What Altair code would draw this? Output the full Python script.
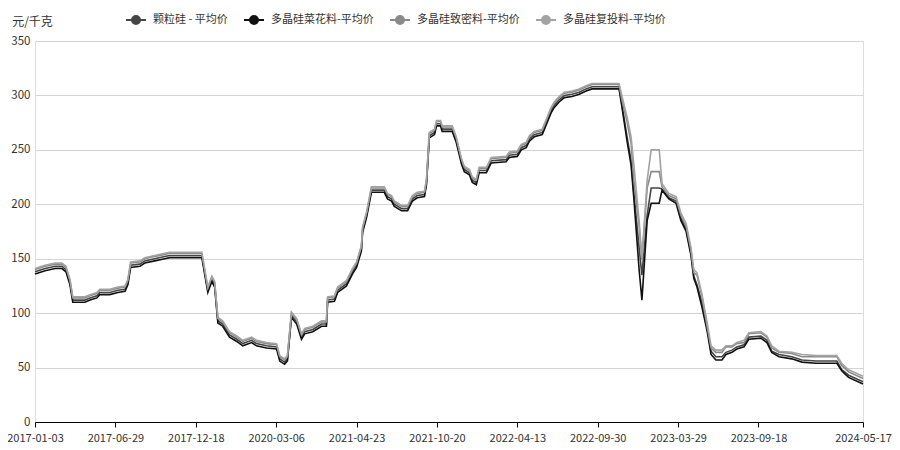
import altair as alt
import pandas as pd

FONT = "Noto Sans CJK SC"

series_names = ["颗粒硅 - 平均价", "多晶硅菜花料-平均价", "多晶硅致密料-平均价", "多晶硅复投料-平均价"]
series_colors = ["#454545", "#111111", "#8a8a8a", "#a3a3a3"]

tick_pos = [0, 20, 40, 60, 80, 100, 120, 140, 160, 180, 206]
tick_labels = ["2017-01-03", "2017-06-29", "2017-12-18", "2020-03-06", "2021-04-23",
               "2021-10-20", "2022-04-13", "2022-09-30", "2023-03-29", "2023-09-18", "2024-05-17"]

t = [0, 2.5, 5.0, 6.7, 7.7, 8.7, 9.4, 12.4, 13.7, 15.4,
     16.1, 18.6, 20.6, 22.4, 23.1, 23.8, 26.1, 27.3, 29.8, 32.3,
     33.5, 41.5, 42.2, 43.0, 44.0, 44.7, 45.5, 46.7, 48.4, 50.2,
     51.7, 53.9, 55.1, 57.6, 60.1, 60.9, 62.1, 62.8, 63.8, 65.1,
     66.3, 67.1, 69.1, 71.3, 72.5, 72.8, 74.5, 75.3, 77.5, 79.0,
     80.0, 81.2, 81.5, 82.5, 83.7, 86.9, 87.7, 88.7, 89.4, 91.2,
     92.7, 93.9, 95.1, 96.9, 97.4, 98.1, 99.4, 99.9, 100.9, 101.3,
     103.8, 104.8, 106.1, 106.8, 108.1, 108.8, 109.8, 110.5, 112.3, 113.5,
     117.2, 118.0, 120.0, 121.0, 122.2, 123.0, 124.2, 126.2, 127.2, 128.4,
     129.2, 130.4, 131.7, 133.6, 135.4, 137.1, 138.6, 145.3,
     146.0, 147.3, 148.3, 149.0, 150.3, 151.0, 152.3, 153.3, 155.3, 156.0,
     157.7, 159.5, 160.7, 162.0, 163.2, 163.9, 164.7, 165.9, 167.2, 168.2,
     169.4, 170.9, 171.9, 173.4, 174.6, 176.4, 177.6, 180.6, 182.1, 183.3,
     185.1, 188.3, 190.8, 194.3, 199.5, 200.7, 202.4, 206]

# 颗粒硅
granular = [138, 141, 143, 143, 140, 128, 112, 112, 114, 116,
            119, 119, 121, 122, 128, 144, 145, 148, 150, 152,
            153, 153, 138, 121, 131, 126, 93, 90, 80, 76,
            72, 75, 72, 70, 69, 58, 55, 58, 98, 92,
            78, 83, 85, 90, 90, 112, 113, 121, 127, 138,
            144, 159, 176, 190, 213, 213, 207, 205, 200, 196,
            196, 205, 208, 209, 220, 263, 266, 274, 274, 269,
            269, 259, 239, 232, 229, 222, 220, 231, 231, 240,
            241, 245, 246, 252, 254, 260, 264, 266, 275, 286,
            291, 296, 300, 301, 303, 306, 308, 308,
            292, 262, 240, 210, 160, 135, 190, 215, 215, 214,
            206, 203, 187, 177, 155, 134, 126, 110, 86, 65,
            60, 60, 64, 66, 69, 71, 78, 79, 75, 65,
            62, 60, 57, 56, 56, 48, 43, 37]

# 多晶硅菜花料
cauliflower = [136, 139, 141, 141, 138, 126, 110, 110, 112, 114,
               117, 117, 119, 120, 126, 142, 143, 146, 148, 150,
               151, 151, 136, 119, 129, 124, 91, 88, 78, 74,
               70, 73, 70, 68, 67, 56, 53, 56, 96, 90,
               76, 81, 83, 88, 88, 110, 111, 119, 125, 136,
               142, 157, 174, 188, 211, 211, 205, 203, 198, 194,
               194, 203, 206, 207, 218, 261, 264, 272, 272, 267,
               267, 257, 237, 230, 227, 220, 218, 229, 229, 238,
               239, 243, 244, 250, 252, 258, 262, 264, 273, 284,
               289, 294, 298, 299, 301, 304, 306, 306,
               290, 258, 236, 205, 140, 112, 185, 201, 201, 213,
               205, 201, 185, 175, 153, 132, 124, 106, 84, 62,
               57, 57, 62, 64, 67, 69, 76, 77, 73, 64,
               60, 58, 55, 54, 54, 47, 41, 35]

# 多晶硅致密料
dense = [140, 143, 145, 145, 142, 130, 114, 114, 116, 118,
         121, 121, 123, 124, 130, 146, 147, 150, 152, 154,
         155, 155, 140, 123, 133, 128, 95, 92, 82, 78,
         74, 77, 74, 72, 71, 60, 57, 60, 100, 94,
         80, 85, 87, 92, 92, 114, 115, 123, 129, 140,
         146, 161, 178, 192, 215, 215, 209, 207, 202, 198,
         198, 207, 210, 211, 222, 265, 268, 276, 276, 271,
         271, 261, 241, 234, 231, 224, 222, 233, 233, 242,
         243, 247, 248, 254, 256, 262, 266, 268, 277, 288,
         293, 298, 302, 303, 305, 308, 310, 310,
         296, 276, 256, 222, 180, 149, 215, 230, 230, 216,
         208, 205, 190, 180, 158, 137, 135, 116, 88, 68,
         64, 64, 69, 69, 72, 73, 81, 82, 78, 68,
         64, 63, 60, 60, 60, 52, 46, 40]

# 多晶硅复投料
recharge = [141, 144, 146, 146, 143, 131, 115, 115, 117, 119,
            122, 122, 124, 125, 131, 147, 148, 151, 153, 155,
            156, 156, 141, 124, 134, 129, 96, 93, 83, 79,
            75, 78, 75, 73, 72, 61, 58, 61, 101, 95,
            81, 86, 88, 93, 93, 115, 116, 124, 130, 141,
            147, 162, 179, 193, 216, 216, 210, 208, 203, 199,
            199, 208, 211, 212, 223, 266, 269, 277, 277, 272,
            272, 262, 242, 235, 232, 225, 223, 234, 234, 243,
            244, 248, 249, 255, 257, 263, 267, 269, 278, 289,
            294, 299, 303, 304, 306, 309, 311, 311,
            300, 280, 262, 236, 185, 150, 222, 250, 250, 219,
            210, 207, 192, 182, 160, 140, 137, 118, 92, 70,
            66, 66, 70, 70, 73, 75, 82, 83, 79, 70,
            65, 64, 62, 61, 61, 54, 48, 42]

rows = []
for name, vals in zip(series_names, [granular, cauliflower, dense, recharge]):
    for ti, v in zip(t, vals):
        rows.append({"t": ti, "v": v, "series": name})
df = pd.DataFrame(rows)

pos_js = "[" + ",".join(str(p) for p in tick_pos) + "]"
lab_js = "[" + ",".join("'" + s + "'" for s in tick_labels) + "]"
label_expr = lab_js + "[indexof(" + pos_js + ", datum.value)]"

sym_path = "M-1,0L-0.4,0M0.4,0L1,0M-0.4,0A0.4,0.4,0,1,1,0.4,0A0.4,0.4,0,1,1,-0.4,0Z"

chart = alt.Chart(df).mark_line(strokeWidth=1.6).encode(
    x=alt.X("t:Q",
            scale=alt.Scale(domain=[0, 206], nice=False, zero=False),
            axis=alt.Axis(values=tick_pos, labelExpr=label_expr, title=None, grid=False,
                          domainColor="#000000", tickColor="#000000", tickSize=5,
                          labelFont=FONT, labelFontSize=11, labelColor="#333333",
                          labelPadding=5, labelOverlap=False, labelFlush=False)),
    y=alt.Y("v:Q",
            scale=alt.Scale(domain=[0, 350], nice=False),
            axis=alt.Axis(values=[0, 50, 100, 150, 200, 250, 300, 350], title="元/千克",
                          titleAngle=0, titleX=-3, titleY=-20, titleAlign="center",
                          titleBaseline="middle", titleFont=FONT, titleFontSize=12,
                          titleFontWeight="normal", titleColor="#333333",
                          domain=False, ticks=False, gridColor="#d4d4d4", gridWidth=1,
                          labelFont=FONT, labelFontSize=11.5, labelColor="#333333",
                          labelPadding=5, labelBaseline="middle")),
    color=alt.Color("series:N",
                    scale=alt.Scale(domain=series_names, range=series_colors),
                    sort=series_names,
                    legend=alt.Legend(title=None, orient="none", legendX=90, legendY=-32,
                                      direction="horizontal", columns=4,
                                      symbolType=sym_path, symbolSize=400,
                                      symbolStrokeWidth=2,
                                      symbolFillColor=alt.ExprRef(expr="scale('color', datum.value)"),
                                      labelFont=FONT, labelFontSize=11, labelColor="#333333",
                                      labelOffset=6, columnPadding=12)),
).properties(
    width=828, height=381,
    autosize=alt.AutoSizeParams(type="none"),
    padding={"left": 27, "top": 33, "right": 29, "bottom": 28},
).configure_view(stroke=None).configure(background="white")

chart.save("out.html", embed_options={"renderer": "svg", "actions": False})
